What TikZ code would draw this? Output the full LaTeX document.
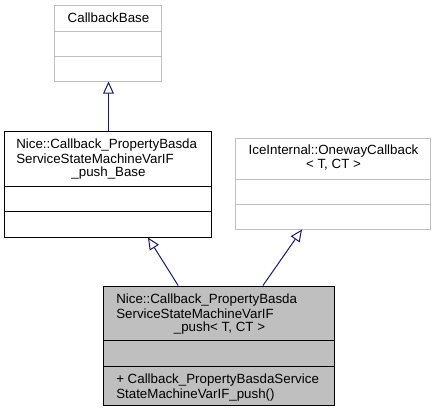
\documentclass[tikz,border=0pt]{standalone}
\usepackage{fontspec}
\setmainfont{Liberation Sans}
\usetikzlibrary{arrows.meta}
\definecolor{edgegray}{HTML}{BFBFBF}
\definecolor{fillgray}{HTML}{BFBFBF}
\definecolor{inhblue}{HTML}{191970}
\tikzset{
    classbox/.style={rectangle,draw=black,line width=0.75pt,inner sep=0pt},
    greybox/.style={classbox,draw=edgegray},
    txt/.style={inner sep=0pt,font=\fontsize{10pt}{10.5pt}\selectfont},
    inherit/.style={draw=inhblue,line width=0.75pt,-{Triangle[open,length=9pt,width=8pt]}},
}
\begin{document}
\begin{tikzpicture}[x=0.75pt,y=-0.75pt]
\useasboundingbox (0,0) rectangle (437,412);

% CallbackBase
\node[greybox,minimum width=80.25pt,minimum height=57pt] (cb) at (108.5,43) {};
\draw[edgegray,line width=0.75pt](55,31)--(162,31);
\draw[edgegray,line width=0.75pt](55,56)--(162,56);
\node[txt] (cbname) at (108.5,18) {CallbackBase};

% the _Base class
\node[classbox,minimum width=155.25pt,minimum height=79.5pt] (base) at (108.5,184) {};
\draw[line width=0.75pt](5,186)--(212,186);
\draw[line width=0.75pt](5,211)--(212,211);
\node[txt,anchor=west] (basea) at (16,145) {Nice::Callback\_PropertyBasda};
\node[txt,anchor=west] (baseb) at (16,159) {ServiceStateMachineVarIF};
\node[txt] (basec) at (108.5,173) {\_push\_Base};

% OnewayCallback
\node[greybox,minimum width=146.25pt,minimum height=68.25pt] (ow) at (333.5,183.5) {};
\draw[edgegray,line width=0.75pt](236,179)--(431,179);
\draw[edgegray,line width=0.75pt](236,204)--(431,204);
\node[txt] (owa) at (333.5,151) {IceInternal::OnewayCallback};
\node[txt] (owb) at (333.5,165) {< T, CT >};

% the _push class
\node[classbox,fill=fillgray,minimum width=173.25pt,minimum height=89.25pt] (push) at (219.5,345.5) {};
\draw[line width=0.75pt](104,340)--(335,340);
\draw[line width=0.75pt](104,366)--(335,366);
\node[txt,anchor=west] (pusha) at (116,300) {Nice::Callback\_PropertyBasda};
\node[txt,anchor=west] (pushb) at (116,314) {ServiceStateMachineVarIF};
\node[txt] (pushc) at (219.5,328) {\_push< T, CT >};
\node[txt,anchor=west] (opa) at (116,380) {+ Callback\_PropertyBasdaService};
\node[txt,anchor=west] (opb) at (116,395) {StateMachineVarIF\_push()};

% inheritance
\draw[inherit] (base.north) -- (cb.south);
\draw[inherit] ([xshift=-31pt]push.north) -- ([xshift=29.6pt]base.south);
\draw[inherit] ([xshift=32.6pt]push.north) -- ([xshift=-23.6pt]ow.south);

\end{tikzpicture}
\end{document}
